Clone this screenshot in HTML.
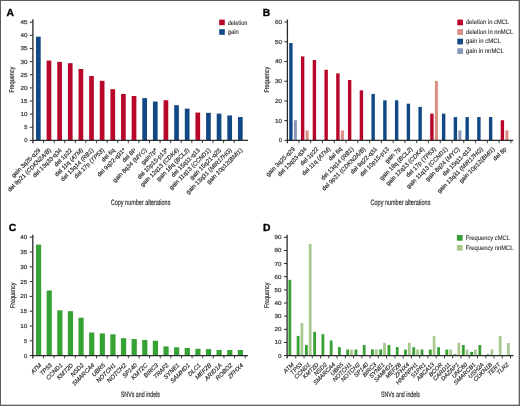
<!DOCTYPE html>
<html><head><meta charset="utf-8"><style>
html,body{margin:0;padding:0;background:#fff;}
body{width:520px;height:406px;overflow:hidden;}
svg{display:block;will-change:transform;}
text{font-family:"Liberation Sans", sans-serif;text-rendering:geometricPrecision;stroke:#333;stroke-width:0.2px;}
</style></head><body>
<svg width="520" height="406" viewBox="0 0 520 406">
<rect x="0" y="0" width="520" height="406" fill="#fff"/>
<g>
<text x="6.5" y="15.6" font-size="10.3" font-weight="bold" fill="#000" style="stroke:#000;stroke-width:0.35px">A</text>
<rect x="36.00" y="36.67" width="4.7" height="103.73" fill="#124985"/>
<rect x="46.63" y="60.57" width="4.7" height="79.83" fill="#b8062a"/>
<rect x="57.26" y="61.88" width="4.7" height="78.52" fill="#b8062a"/>
<rect x="67.89" y="63.20" width="4.7" height="77.20" fill="#b8062a"/>
<rect x="78.52" y="68.97" width="4.7" height="71.43" fill="#b8062a"/>
<rect x="89.15" y="76.06" width="4.7" height="64.34" fill="#b8062a"/>
<rect x="99.78" y="80.79" width="4.7" height="59.61" fill="#b8062a"/>
<rect x="110.41" y="89.19" width="4.7" height="51.21" fill="#b8062a"/>
<rect x="121.04" y="93.92" width="4.7" height="46.48" fill="#b8062a"/>
<rect x="131.67" y="96.02" width="4.7" height="44.38" fill="#b8062a"/>
<rect x="142.30" y="98.12" width="4.7" height="42.28" fill="#124985"/>
<rect x="152.93" y="101.54" width="4.7" height="38.86" fill="#124985"/>
<rect x="163.56" y="100.22" width="4.7" height="40.18" fill="#b8062a"/>
<rect x="174.19" y="105.21" width="4.7" height="35.19" fill="#124985"/>
<rect x="184.82" y="108.63" width="4.7" height="31.77" fill="#124985"/>
<rect x="195.45" y="112.56" width="4.7" height="27.84" fill="#b8062a"/>
<rect x="206.08" y="112.83" width="4.7" height="27.57" fill="#124985"/>
<rect x="216.71" y="113.61" width="4.7" height="26.79" fill="#124985"/>
<rect x="227.34" y="115.45" width="4.7" height="24.95" fill="#124985"/>
<rect x="237.97" y="117.03" width="4.7" height="23.37" fill="#124985"/>
<line x1="32.9" y1="19.3" x2="32.9" y2="143.20000000000002" stroke="#2a2a2a" stroke-width="1.3"/>
<line x1="29.799999999999997" y1="140.40" x2="32.9" y2="140.40" stroke="#2a2a2a" stroke-width="1.0"/>
<text x="27.4" y="142.40" text-anchor="end" font-size="5.8" fill="#333333">0</text>
<line x1="29.799999999999997" y1="127.27" x2="32.9" y2="127.27" stroke="#2a2a2a" stroke-width="1.0"/>
<text x="27.4" y="129.27" text-anchor="end" font-size="5.8" fill="#333333">5</text>
<line x1="29.799999999999997" y1="114.14" x2="32.9" y2="114.14" stroke="#2a2a2a" stroke-width="1.0"/>
<text x="27.4" y="116.14" text-anchor="end" font-size="5.8" fill="#333333" textLength="7.0" lengthAdjust="spacingAndGlyphs">10</text>
<line x1="29.799999999999997" y1="101.01" x2="32.9" y2="101.01" stroke="#2a2a2a" stroke-width="1.0"/>
<text x="27.4" y="103.01" text-anchor="end" font-size="5.8" fill="#333333" textLength="7.0" lengthAdjust="spacingAndGlyphs">15</text>
<line x1="29.799999999999997" y1="87.88" x2="32.9" y2="87.88" stroke="#2a2a2a" stroke-width="1.0"/>
<text x="27.4" y="89.88" text-anchor="end" font-size="5.8" fill="#333333" textLength="7.0" lengthAdjust="spacingAndGlyphs">20</text>
<line x1="29.799999999999997" y1="74.75" x2="32.9" y2="74.75" stroke="#2a2a2a" stroke-width="1.0"/>
<text x="27.4" y="76.75" text-anchor="end" font-size="5.8" fill="#333333" textLength="7.0" lengthAdjust="spacingAndGlyphs">25</text>
<line x1="29.799999999999997" y1="61.62" x2="32.9" y2="61.62" stroke="#2a2a2a" stroke-width="1.0"/>
<text x="27.4" y="63.62" text-anchor="end" font-size="5.8" fill="#333333" textLength="7.0" lengthAdjust="spacingAndGlyphs">30</text>
<line x1="29.799999999999997" y1="48.49" x2="32.9" y2="48.49" stroke="#2a2a2a" stroke-width="1.0"/>
<text x="27.4" y="50.49" text-anchor="end" font-size="5.8" fill="#333333" textLength="7.0" lengthAdjust="spacingAndGlyphs">35</text>
<line x1="29.799999999999997" y1="35.36" x2="32.9" y2="35.36" stroke="#2a2a2a" stroke-width="1.0"/>
<text x="27.4" y="37.36" text-anchor="end" font-size="5.8" fill="#333333" textLength="7.0" lengthAdjust="spacingAndGlyphs">40</text>
<line x1="29.799999999999997" y1="22.23" x2="32.9" y2="22.23" stroke="#2a2a2a" stroke-width="1.0"/>
<text x="27.4" y="24.23" text-anchor="end" font-size="5.8" fill="#333333" textLength="7.0" lengthAdjust="spacingAndGlyphs">45</text>
<line x1="32.449999999999996" y1="140.4" x2="248" y2="140.4" stroke="#2a2a2a" stroke-width="1.3"/>
<line x1="43.59" y1="140.4" x2="43.59" y2="143.20000000000002" stroke="#2a2a2a" stroke-width="0.9"/>
<line x1="54.18" y1="140.4" x2="54.18" y2="143.20000000000002" stroke="#2a2a2a" stroke-width="0.9"/>
<line x1="64.77" y1="140.4" x2="64.77" y2="143.20000000000002" stroke="#2a2a2a" stroke-width="0.9"/>
<line x1="75.36" y1="140.4" x2="75.36" y2="143.20000000000002" stroke="#2a2a2a" stroke-width="0.9"/>
<line x1="85.95" y1="140.4" x2="85.95" y2="143.20000000000002" stroke="#2a2a2a" stroke-width="0.9"/>
<line x1="96.54" y1="140.4" x2="96.54" y2="143.20000000000002" stroke="#2a2a2a" stroke-width="0.9"/>
<line x1="107.13" y1="140.4" x2="107.13" y2="143.20000000000002" stroke="#2a2a2a" stroke-width="0.9"/>
<line x1="117.72" y1="140.4" x2="117.72" y2="143.20000000000002" stroke="#2a2a2a" stroke-width="0.9"/>
<line x1="128.31" y1="140.4" x2="128.31" y2="143.20000000000002" stroke="#2a2a2a" stroke-width="0.9"/>
<line x1="138.90" y1="140.4" x2="138.90" y2="143.20000000000002" stroke="#2a2a2a" stroke-width="0.9"/>
<line x1="149.49" y1="140.4" x2="149.49" y2="143.20000000000002" stroke="#2a2a2a" stroke-width="0.9"/>
<line x1="160.08" y1="140.4" x2="160.08" y2="143.20000000000002" stroke="#2a2a2a" stroke-width="0.9"/>
<line x1="170.67" y1="140.4" x2="170.67" y2="143.20000000000002" stroke="#2a2a2a" stroke-width="0.9"/>
<line x1="181.26" y1="140.4" x2="181.26" y2="143.20000000000002" stroke="#2a2a2a" stroke-width="0.9"/>
<line x1="191.85" y1="140.4" x2="191.85" y2="143.20000000000002" stroke="#2a2a2a" stroke-width="0.9"/>
<line x1="202.44" y1="140.4" x2="202.44" y2="143.20000000000002" stroke="#2a2a2a" stroke-width="0.9"/>
<line x1="213.03" y1="140.4" x2="213.03" y2="143.20000000000002" stroke="#2a2a2a" stroke-width="0.9"/>
<line x1="223.62" y1="140.4" x2="223.62" y2="143.20000000000002" stroke="#2a2a2a" stroke-width="0.9"/>
<line x1="234.21" y1="140.4" x2="234.21" y2="143.20000000000002" stroke="#2a2a2a" stroke-width="0.9"/>
<text transform="translate(40.85,150.6) rotate(-45)" text-anchor="end" font-size="6.0" fill="#333333">gain 3q25-q29</text>
<text transform="translate(51.48,150.6) rotate(-45)" text-anchor="end" font-size="6.0" fill="#333333">del 9p21 (<tspan font-style="italic">CDKN2A/B</tspan>)</text>
<text transform="translate(62.11,150.6) rotate(-45)" text-anchor="end" font-size="6.0" fill="#333333">del 13q33-q34</text>
<text transform="translate(72.74,150.6) rotate(-45)" text-anchor="end" font-size="6.0" fill="#333333">del 1p22</text>
<text transform="translate(83.37,150.6) rotate(-45)" text-anchor="end" font-size="6.0" fill="#333333">del 11q (<tspan font-style="italic">ATM</tspan>)</text>
<text transform="translate(94.00,150.6) rotate(-45)" text-anchor="end" font-size="6.0" fill="#333333">del 13q14 (<tspan font-style="italic">RB1</tspan>)</text>
<text transform="translate(104.63,150.6) rotate(-45)" text-anchor="end" font-size="6.0" fill="#333333">del 17p (<tspan font-style="italic">TP53</tspan>)</text>
<text transform="translate(115.26,150.6) rotate(-45)" text-anchor="end" font-size="6.0" fill="#333333">del 6q</text>
<text transform="translate(125.89,150.6) rotate(-45)" text-anchor="end" font-size="6.0" fill="#333333">del 9q22-q31*</text>
<text transform="translate(136.52,150.6) rotate(-45)" text-anchor="end" font-size="6.0" fill="#333333">del 8P</text>
<text transform="translate(147.15,150.6) rotate(-45)" text-anchor="end" font-size="6.0" fill="#333333">gain 8q24 (<tspan font-style="italic">MYC</tspan>)</text>
<text transform="translate(157.78,150.6) rotate(-45)" text-anchor="end" font-size="6.0" fill="#333333">gain7p*</text>
<text transform="translate(168.41,150.6) rotate(-45)" text-anchor="end" font-size="6.0" fill="#333333">del 10p15-p13*</text>
<text transform="translate(179.04,150.6) rotate(-45)" text-anchor="end" font-size="6.0" fill="#333333">gain 12q13 (<tspan font-style="italic">CDK4</tspan>)</text>
<text transform="translate(189.67,150.6) rotate(-45)" text-anchor="end" font-size="6.0" fill="#333333">gain 18q (<tspan font-style="italic">BCL2</tspan>)</text>
<text transform="translate(200.30,150.6) rotate(-45)" text-anchor="end" font-size="6.0" fill="#333333">del 15q11-q13</text>
<text transform="translate(210.93,150.6) rotate(-45)" text-anchor="end" font-size="6.0" fill="#333333">gain 11q13 (<tspan font-style="italic">CCND1</tspan>)</text>
<text transform="translate(221.56,150.6) rotate(-45)" text-anchor="end" font-size="6.0" fill="#333333">gain 15q21-q25</text>
<text transform="translate(232.19,150.6) rotate(-45)" text-anchor="end" font-size="6.0" fill="#333333">gain 13q31 (<tspan font-style="italic">MIR17HG</tspan>)</text>
<text transform="translate(242.82,150.6) rotate(-45)" text-anchor="end" font-size="6.0" fill="#333333">gain 10p12(<tspan font-style="italic">BMI1</tspan>)</text>
<text transform="translate(14.40,79.7) rotate(-90)" text-anchor="middle" font-size="6.9" fill="#333333" textLength="25.8" lengthAdjust="spacingAndGlyphs">Frequency</text>
<text x="110.80" y="205.1" font-size="7.8" fill="#333333" textLength="59.6" lengthAdjust="spacingAndGlyphs">Copy number alterations</text>
<rect x="219.2" y="19.6" width="5.6" height="5.6" fill="#b8062a"/>
<text x="227.7" y="24.70" font-size="6.4" fill="#333333" style="stroke-width:0.12px" textLength="19.8" lengthAdjust="spacingAndGlyphs">deletion</text>
<rect x="219.2" y="29.2" width="5.6" height="5.6" fill="#124985"/>
<text x="227.7" y="34.30" font-size="6.4" fill="#333333" style="stroke-width:0.12px" textLength="11.0" lengthAdjust="spacingAndGlyphs">gain</text>
</g>
<g>
<text x="262.8" y="15.6" font-size="10.3" font-weight="bold" fill="#000" style="stroke:#000;stroke-width:0.35px">B</text>
<rect x="289.20" y="43.04" width="3.4" height="97.36" fill="#124985"/>
<rect x="293.90" y="120.25" width="3.0" height="20.15" fill="#8c97bc"/>
<rect x="300.95" y="56.41" width="3.4" height="83.99" fill="#b8062a"/>
<rect x="305.65" y="130.43" width="3.0" height="9.98" fill="#da8e82"/>
<rect x="312.70" y="60.00" width="3.4" height="80.40" fill="#b8062a"/>
<rect x="324.45" y="69.78" width="3.4" height="70.62" fill="#b8062a"/>
<rect x="336.20" y="73.37" width="3.4" height="67.03" fill="#b8062a"/>
<rect x="340.90" y="130.43" width="3.0" height="9.98" fill="#da8e82"/>
<rect x="347.95" y="79.95" width="3.4" height="60.45" fill="#b8062a"/>
<rect x="359.70" y="90.33" width="3.4" height="50.07" fill="#b8062a"/>
<rect x="371.45" y="93.92" width="3.4" height="46.48" fill="#124985"/>
<rect x="383.20" y="100.30" width="3.4" height="40.10" fill="#124985"/>
<rect x="394.95" y="100.30" width="3.4" height="40.10" fill="#124985"/>
<rect x="406.70" y="103.69" width="3.4" height="36.71" fill="#124985"/>
<rect x="418.45" y="106.88" width="3.4" height="33.52" fill="#124985"/>
<rect x="430.20" y="113.67" width="3.4" height="26.73" fill="#b8062a"/>
<rect x="434.90" y="80.95" width="3.0" height="59.45" fill="#da8e82"/>
<rect x="441.95" y="113.67" width="3.4" height="26.73" fill="#124985"/>
<rect x="453.70" y="117.06" width="3.4" height="23.34" fill="#124985"/>
<rect x="458.40" y="130.43" width="3.0" height="9.98" fill="#8c97bc"/>
<rect x="465.45" y="117.06" width="3.4" height="23.34" fill="#124985"/>
<rect x="477.20" y="117.06" width="3.4" height="23.34" fill="#124985"/>
<rect x="488.95" y="117.06" width="3.4" height="23.34" fill="#124985"/>
<rect x="500.70" y="120.25" width="3.4" height="20.15" fill="#b8062a"/>
<rect x="505.40" y="130.43" width="3.0" height="9.98" fill="#da8e82"/>
<line x1="287.4" y1="19.5" x2="287.4" y2="143.20000000000002" stroke="#2a2a2a" stroke-width="1.3"/>
<line x1="284.29999999999995" y1="140.40" x2="287.4" y2="140.40" stroke="#2a2a2a" stroke-width="1.0"/>
<text x="281.9" y="142.40" text-anchor="end" font-size="5.8" fill="#333333">0</text>
<line x1="284.29999999999995" y1="120.67" x2="287.4" y2="120.67" stroke="#2a2a2a" stroke-width="1.0"/>
<text x="281.9" y="122.67" text-anchor="end" font-size="5.8" fill="#333333" textLength="7.0" lengthAdjust="spacingAndGlyphs">10</text>
<line x1="284.29999999999995" y1="100.94" x2="287.4" y2="100.94" stroke="#2a2a2a" stroke-width="1.0"/>
<text x="281.9" y="102.94" text-anchor="end" font-size="5.8" fill="#333333" textLength="7.0" lengthAdjust="spacingAndGlyphs">20</text>
<line x1="284.29999999999995" y1="81.21" x2="287.4" y2="81.21" stroke="#2a2a2a" stroke-width="1.0"/>
<text x="281.9" y="83.21" text-anchor="end" font-size="5.8" fill="#333333" textLength="7.0" lengthAdjust="spacingAndGlyphs">30</text>
<line x1="284.29999999999995" y1="61.48" x2="287.4" y2="61.48" stroke="#2a2a2a" stroke-width="1.0"/>
<text x="281.9" y="63.48" text-anchor="end" font-size="5.8" fill="#333333" textLength="7.0" lengthAdjust="spacingAndGlyphs">40</text>
<line x1="284.29999999999995" y1="41.75" x2="287.4" y2="41.75" stroke="#2a2a2a" stroke-width="1.0"/>
<text x="281.9" y="43.75" text-anchor="end" font-size="5.8" fill="#333333" textLength="7.0" lengthAdjust="spacingAndGlyphs">50</text>
<line x1="284.29999999999995" y1="22.02" x2="287.4" y2="22.02" stroke="#2a2a2a" stroke-width="1.0"/>
<text x="281.9" y="24.02" text-anchor="end" font-size="5.8" fill="#333333" textLength="7.0" lengthAdjust="spacingAndGlyphs">60</text>
<line x1="286.95" y1="140.4" x2="513.3" y2="140.4" stroke="#2a2a2a" stroke-width="1.3"/>
<line x1="298.93" y1="140.4" x2="298.93" y2="143.20000000000002" stroke="#2a2a2a" stroke-width="0.9"/>
<line x1="310.70" y1="140.4" x2="310.70" y2="143.20000000000002" stroke="#2a2a2a" stroke-width="0.9"/>
<line x1="322.48" y1="140.4" x2="322.48" y2="143.20000000000002" stroke="#2a2a2a" stroke-width="0.9"/>
<line x1="334.25" y1="140.4" x2="334.25" y2="143.20000000000002" stroke="#2a2a2a" stroke-width="0.9"/>
<line x1="346.03" y1="140.4" x2="346.03" y2="143.20000000000002" stroke="#2a2a2a" stroke-width="0.9"/>
<line x1="357.81" y1="140.4" x2="357.81" y2="143.20000000000002" stroke="#2a2a2a" stroke-width="0.9"/>
<line x1="369.58" y1="140.4" x2="369.58" y2="143.20000000000002" stroke="#2a2a2a" stroke-width="0.9"/>
<line x1="381.36" y1="140.4" x2="381.36" y2="143.20000000000002" stroke="#2a2a2a" stroke-width="0.9"/>
<line x1="393.13" y1="140.4" x2="393.13" y2="143.20000000000002" stroke="#2a2a2a" stroke-width="0.9"/>
<line x1="404.91" y1="140.4" x2="404.91" y2="143.20000000000002" stroke="#2a2a2a" stroke-width="0.9"/>
<line x1="416.69" y1="140.4" x2="416.69" y2="143.20000000000002" stroke="#2a2a2a" stroke-width="0.9"/>
<line x1="428.46" y1="140.4" x2="428.46" y2="143.20000000000002" stroke="#2a2a2a" stroke-width="0.9"/>
<line x1="440.24" y1="140.4" x2="440.24" y2="143.20000000000002" stroke="#2a2a2a" stroke-width="0.9"/>
<line x1="452.01" y1="140.4" x2="452.01" y2="143.20000000000002" stroke="#2a2a2a" stroke-width="0.9"/>
<line x1="463.79" y1="140.4" x2="463.79" y2="143.20000000000002" stroke="#2a2a2a" stroke-width="0.9"/>
<line x1="475.57" y1="140.4" x2="475.57" y2="143.20000000000002" stroke="#2a2a2a" stroke-width="0.9"/>
<line x1="487.34" y1="140.4" x2="487.34" y2="143.20000000000002" stroke="#2a2a2a" stroke-width="0.9"/>
<line x1="499.12" y1="140.4" x2="499.12" y2="143.20000000000002" stroke="#2a2a2a" stroke-width="0.9"/>
<line x1="510.89" y1="140.4" x2="510.89" y2="143.20000000000002" stroke="#2a2a2a" stroke-width="0.9"/>
<text transform="translate(295.38,149.5) rotate(-45)" text-anchor="end" font-size="6.0" fill="#333333">gain 3q25-q29</text>
<text transform="translate(307.12,149.5) rotate(-45)" text-anchor="end" font-size="6.0" fill="#333333">del 13q33-q34</text>
<text transform="translate(318.88,149.5) rotate(-45)" text-anchor="end" font-size="6.0" fill="#333333">del 1p22</text>
<text transform="translate(330.62,149.5) rotate(-45)" text-anchor="end" font-size="6.0" fill="#333333">del 11q (<tspan font-style="italic">ATM</tspan>)</text>
<text transform="translate(342.38,149.5) rotate(-45)" text-anchor="end" font-size="6.0" fill="#333333">del 6q</text>
<text transform="translate(354.12,149.5) rotate(-45)" text-anchor="end" font-size="6.0" fill="#333333">del 13q14 (<tspan font-style="italic">RB1</tspan>)</text>
<text transform="translate(365.88,149.5) rotate(-45)" text-anchor="end" font-size="6.0" fill="#333333">del 9p21 (<tspan font-style="italic">CDKN2A/B</tspan>)</text>
<text transform="translate(377.62,149.5) rotate(-45)" text-anchor="end" font-size="6.0" fill="#333333">del 9q22-q31</text>
<text transform="translate(389.38,149.5) rotate(-45)" text-anchor="end" font-size="6.0" fill="#333333">del 10p15-p13</text>
<text transform="translate(401.12,149.5) rotate(-45)" text-anchor="end" font-size="6.0" fill="#333333">gain 7p</text>
<text transform="translate(412.88,149.5) rotate(-45)" text-anchor="end" font-size="6.0" fill="#333333">gain 18q (<tspan font-style="italic">BCL2</tspan>)</text>
<text transform="translate(424.62,149.5) rotate(-45)" text-anchor="end" font-size="6.0" fill="#333333">gain 12q13 (<tspan font-style="italic">CDK4</tspan>)</text>
<text transform="translate(436.38,149.5) rotate(-45)" text-anchor="end" font-size="6.0" fill="#333333">del 17p (<tspan font-style="italic">TP53</tspan>)</text>
<text transform="translate(448.12,149.5) rotate(-45)" text-anchor="end" font-size="6.0" fill="#333333">gain 11q13 (<tspan font-style="italic">CCND1</tspan>)</text>
<text transform="translate(459.88,149.5) rotate(-45)" text-anchor="end" font-size="6.0" fill="#333333">gain 8q24 (<tspan font-style="italic">MYC</tspan>)</text>
<text transform="translate(471.62,149.5) rotate(-45)" text-anchor="end" font-size="6.0" fill="#333333">del 15q11-q13</text>
<text transform="translate(483.38,149.5) rotate(-45)" text-anchor="end" font-size="6.0" fill="#333333">gain 13q31 (<tspan font-style="italic">MIR17HG</tspan>)</text>
<text transform="translate(495.12,149.5) rotate(-45)" text-anchor="end" font-size="6.0" fill="#333333">gain 10p12(<tspan font-style="italic">BMI1</tspan>)</text>
<text transform="translate(506.88,149.5) rotate(-45)" text-anchor="end" font-size="6.0" fill="#333333">del 8p</text>
<text transform="translate(268.70,79.7) rotate(-90)" text-anchor="middle" font-size="6.9" fill="#333333" textLength="25.8" lengthAdjust="spacingAndGlyphs">Frequency</text>
<text x="370.60" y="204.5" font-size="7.8" fill="#333333" textLength="59.8" lengthAdjust="spacingAndGlyphs">Copy number alterations</text>
<rect x="457.3" y="19.6" width="5.7" height="5.7" fill="#b8062a"/>
<text x="465.9" y="24.15" font-size="6.4" fill="#333333" style="stroke-width:0.12px" textLength="43.3" lengthAdjust="spacingAndGlyphs">deletion in cMCL</text>
<rect x="457.3" y="29.15" width="5.7" height="5.7" fill="#da8e82"/>
<text x="465.9" y="33.70" font-size="6.4" fill="#333333" style="stroke-width:0.12px" textLength="47.4" lengthAdjust="spacingAndGlyphs">deletion in nnMCL</text>
<rect x="457.3" y="38.7" width="5.7" height="5.7" fill="#124985"/>
<text x="465.9" y="43.25" font-size="6.4" fill="#333333" style="stroke-width:0.12px" textLength="35.0" lengthAdjust="spacingAndGlyphs">gain in cMCL</text>
<rect x="457.3" y="48.25" width="5.7" height="5.7" fill="#8c97bc"/>
<text x="465.9" y="52.80" font-size="6.4" fill="#333333" style="stroke-width:0.12px" textLength="37.9" lengthAdjust="spacingAndGlyphs">gain in nnMCL</text>
</g>
<g>
<text x="8.7" y="231.2" font-size="10.3" font-weight="bold" fill="#000" style="stroke:#000;stroke-width:0.35px">C</text>
<rect x="36.00" y="244.60" width="5.2" height="111.00" fill="#37a234"/>
<rect x="46.62" y="290.48" width="5.2" height="65.12" fill="#37a234"/>
<rect x="57.24" y="310.31" width="5.2" height="45.29" fill="#37a234"/>
<rect x="67.86" y="311.20" width="5.2" height="44.40" fill="#37a234"/>
<rect x="78.48" y="317.71" width="5.2" height="37.89" fill="#37a234"/>
<rect x="89.10" y="332.51" width="5.2" height="23.09" fill="#37a234"/>
<rect x="99.72" y="333.40" width="5.2" height="22.20" fill="#37a234"/>
<rect x="110.34" y="334.29" width="5.2" height="21.31" fill="#37a234"/>
<rect x="120.96" y="338.14" width="5.2" height="17.46" fill="#37a234"/>
<rect x="131.58" y="339.02" width="5.2" height="16.58" fill="#37a234"/>
<rect x="142.20" y="339.91" width="5.2" height="15.69" fill="#37a234"/>
<rect x="152.82" y="340.80" width="5.2" height="14.80" fill="#37a234"/>
<rect x="163.44" y="346.42" width="5.2" height="9.18" fill="#37a234"/>
<rect x="174.06" y="347.31" width="5.2" height="8.29" fill="#37a234"/>
<rect x="184.68" y="347.90" width="5.2" height="7.70" fill="#37a234"/>
<rect x="195.30" y="348.79" width="5.2" height="6.81" fill="#37a234"/>
<rect x="205.92" y="349.09" width="5.2" height="6.51" fill="#37a234"/>
<rect x="216.54" y="349.98" width="5.2" height="5.62" fill="#37a234"/>
<rect x="227.16" y="349.98" width="5.2" height="5.62" fill="#37a234"/>
<rect x="237.78" y="349.98" width="5.2" height="5.62" fill="#37a234"/>
<line x1="32.8" y1="234.7" x2="32.8" y2="358.40000000000003" stroke="#2a2a2a" stroke-width="1.3"/>
<line x1="29.699999999999996" y1="355.60" x2="32.8" y2="355.60" stroke="#2a2a2a" stroke-width="1.0"/>
<text x="27.299999999999997" y="357.60" text-anchor="end" font-size="5.8" fill="#333333">0</text>
<line x1="29.699999999999996" y1="340.80" x2="32.8" y2="340.80" stroke="#2a2a2a" stroke-width="1.0"/>
<text x="27.299999999999997" y="342.80" text-anchor="end" font-size="5.8" fill="#333333">5</text>
<line x1="29.699999999999996" y1="326.00" x2="32.8" y2="326.00" stroke="#2a2a2a" stroke-width="1.0"/>
<text x="27.299999999999997" y="328.00" text-anchor="end" font-size="5.8" fill="#333333" textLength="7.0" lengthAdjust="spacingAndGlyphs">10</text>
<line x1="29.699999999999996" y1="311.20" x2="32.8" y2="311.20" stroke="#2a2a2a" stroke-width="1.0"/>
<text x="27.299999999999997" y="313.20" text-anchor="end" font-size="5.8" fill="#333333" textLength="7.0" lengthAdjust="spacingAndGlyphs">15</text>
<line x1="29.699999999999996" y1="296.40" x2="32.8" y2="296.40" stroke="#2a2a2a" stroke-width="1.0"/>
<text x="27.299999999999997" y="298.40" text-anchor="end" font-size="5.8" fill="#333333" textLength="7.0" lengthAdjust="spacingAndGlyphs">20</text>
<line x1="29.699999999999996" y1="281.60" x2="32.8" y2="281.60" stroke="#2a2a2a" stroke-width="1.0"/>
<text x="27.299999999999997" y="283.60" text-anchor="end" font-size="5.8" fill="#333333" textLength="7.0" lengthAdjust="spacingAndGlyphs">25</text>
<line x1="29.699999999999996" y1="266.80" x2="32.8" y2="266.80" stroke="#2a2a2a" stroke-width="1.0"/>
<text x="27.299999999999997" y="268.80" text-anchor="end" font-size="5.8" fill="#333333" textLength="7.0" lengthAdjust="spacingAndGlyphs">30</text>
<line x1="29.699999999999996" y1="252.00" x2="32.8" y2="252.00" stroke="#2a2a2a" stroke-width="1.0"/>
<text x="27.299999999999997" y="254.00" text-anchor="end" font-size="5.8" fill="#333333" textLength="7.0" lengthAdjust="spacingAndGlyphs">35</text>
<line x1="29.699999999999996" y1="237.20" x2="32.8" y2="237.20" stroke="#2a2a2a" stroke-width="1.0"/>
<text x="27.299999999999997" y="239.20" text-anchor="end" font-size="5.8" fill="#333333" textLength="7.0" lengthAdjust="spacingAndGlyphs">40</text>
<line x1="32.349999999999994" y1="355.6" x2="248" y2="355.6" stroke="#2a2a2a" stroke-width="1.3"/>
<line x1="43.42" y1="355.6" x2="43.42" y2="358.40000000000003" stroke="#2a2a2a" stroke-width="0.9"/>
<line x1="54.04" y1="355.6" x2="54.04" y2="358.40000000000003" stroke="#2a2a2a" stroke-width="0.9"/>
<line x1="64.66" y1="355.6" x2="64.66" y2="358.40000000000003" stroke="#2a2a2a" stroke-width="0.9"/>
<line x1="75.28" y1="355.6" x2="75.28" y2="358.40000000000003" stroke="#2a2a2a" stroke-width="0.9"/>
<line x1="85.90" y1="355.6" x2="85.90" y2="358.40000000000003" stroke="#2a2a2a" stroke-width="0.9"/>
<line x1="96.52" y1="355.6" x2="96.52" y2="358.40000000000003" stroke="#2a2a2a" stroke-width="0.9"/>
<line x1="107.14" y1="355.6" x2="107.14" y2="358.40000000000003" stroke="#2a2a2a" stroke-width="0.9"/>
<line x1="117.76" y1="355.6" x2="117.76" y2="358.40000000000003" stroke="#2a2a2a" stroke-width="0.9"/>
<line x1="128.38" y1="355.6" x2="128.38" y2="358.40000000000003" stroke="#2a2a2a" stroke-width="0.9"/>
<line x1="139.00" y1="355.6" x2="139.00" y2="358.40000000000003" stroke="#2a2a2a" stroke-width="0.9"/>
<line x1="149.62" y1="355.6" x2="149.62" y2="358.40000000000003" stroke="#2a2a2a" stroke-width="0.9"/>
<line x1="160.24" y1="355.6" x2="160.24" y2="358.40000000000003" stroke="#2a2a2a" stroke-width="0.9"/>
<line x1="170.86" y1="355.6" x2="170.86" y2="358.40000000000003" stroke="#2a2a2a" stroke-width="0.9"/>
<line x1="181.48" y1="355.6" x2="181.48" y2="358.40000000000003" stroke="#2a2a2a" stroke-width="0.9"/>
<line x1="192.10" y1="355.6" x2="192.10" y2="358.40000000000003" stroke="#2a2a2a" stroke-width="0.9"/>
<line x1="202.72" y1="355.6" x2="202.72" y2="358.40000000000003" stroke="#2a2a2a" stroke-width="0.9"/>
<line x1="213.34" y1="355.6" x2="213.34" y2="358.40000000000003" stroke="#2a2a2a" stroke-width="0.9"/>
<line x1="223.96" y1="355.6" x2="223.96" y2="358.40000000000003" stroke="#2a2a2a" stroke-width="0.9"/>
<line x1="234.58" y1="355.6" x2="234.58" y2="358.40000000000003" stroke="#2a2a2a" stroke-width="0.9"/>
<line x1="245.20" y1="355.6" x2="245.20" y2="358.40000000000003" stroke="#2a2a2a" stroke-width="0.9"/>
<text transform="translate(41.80,365.6) rotate(-45)" text-anchor="end" font-size="6.0" fill="#333333" font-style="italic">ATM</text>
<text transform="translate(52.42,365.6) rotate(-45)" text-anchor="end" font-size="6.0" fill="#333333" font-style="italic">TP53</text>
<text transform="translate(63.04,365.6) rotate(-45)" text-anchor="end" font-size="6.0" fill="#333333" font-style="italic">CCND1</text>
<text transform="translate(73.66,365.6) rotate(-45)" text-anchor="end" font-size="6.0" fill="#333333" font-style="italic">KMT2D</text>
<text transform="translate(84.28,365.6) rotate(-45)" text-anchor="end" font-size="6.0" fill="#333333" font-style="italic">NSD2</text>
<text transform="translate(94.90,365.6) rotate(-45)" text-anchor="end" font-size="6.0" fill="#333333" font-style="italic">SMARCA4</text>
<text transform="translate(105.52,365.6) rotate(-45)" text-anchor="end" font-size="6.0" fill="#333333" font-style="italic">UBR5</text>
<text transform="translate(116.14,365.6) rotate(-45)" text-anchor="end" font-size="6.0" fill="#333333" font-style="italic">NOTCH1</text>
<text transform="translate(126.76,365.6) rotate(-45)" text-anchor="end" font-size="6.0" fill="#333333" font-style="italic">NOTCH2</text>
<text transform="translate(137.38,365.6) rotate(-45)" text-anchor="end" font-size="6.0" fill="#333333" font-style="italic">SP140</text>
<text transform="translate(148.00,365.6) rotate(-45)" text-anchor="end" font-size="6.0" fill="#333333" font-style="italic">KMT2C</text>
<text transform="translate(158.62,365.6) rotate(-45)" text-anchor="end" font-size="6.0" fill="#333333" font-style="italic">BIRC3</text>
<text transform="translate(169.24,365.6) rotate(-45)" text-anchor="end" font-size="6.0" fill="#333333" font-style="italic">TRAF2</text>
<text transform="translate(179.86,365.6) rotate(-45)" text-anchor="end" font-size="6.0" fill="#333333" font-style="italic">SYNE1</text>
<text transform="translate(190.48,365.6) rotate(-45)" text-anchor="end" font-size="6.0" fill="#333333" font-style="italic">SAMHD1</text>
<text transform="translate(201.10,365.6) rotate(-45)" text-anchor="end" font-size="6.0" fill="#333333" font-style="italic">DLC1</text>
<text transform="translate(211.72,365.6) rotate(-45)" text-anchor="end" font-size="6.0" fill="#333333" font-style="italic">MEF2B</text>
<text transform="translate(222.34,365.6) rotate(-45)" text-anchor="end" font-size="6.0" fill="#333333" font-style="italic">ARID1A</text>
<text transform="translate(232.96,365.6) rotate(-45)" text-anchor="end" font-size="6.0" fill="#333333" font-style="italic">ROBO2</text>
<text transform="translate(243.58,365.6) rotate(-45)" text-anchor="end" font-size="6.0" fill="#333333" font-style="italic">ZFHX4</text>
<text transform="translate(14.50,295.3) rotate(-90)" text-anchor="middle" font-size="6.9" fill="#333333" textLength="25.5" lengthAdjust="spacingAndGlyphs">Frequency</text>
<text x="120.80" y="396.9" font-size="7.8" fill="#333333" textLength="39.2" lengthAdjust="spacingAndGlyphs">SNVs and indels</text>
</g>
<g>
<text x="263.0" y="231.0" font-size="10.3" font-weight="bold" fill="#000" style="stroke:#000;stroke-width:0.35px">D</text>
<rect x="288.45" y="279.86" width="2.8" height="75.74" fill="#379f33"/>
<rect x="296.71" y="335.88" width="2.8" height="19.72" fill="#379f33"/>
<rect x="300.56" y="322.99" width="2.7" height="32.61" fill="#a8c88e"/>
<rect x="304.97" y="344.95" width="2.8" height="10.65" fill="#379f33"/>
<rect x="308.82" y="243.96" width="2.7" height="111.64" fill="#a8c88e"/>
<rect x="313.23" y="331.80" width="2.8" height="23.80" fill="#379f33"/>
<rect x="321.49" y="334.17" width="2.8" height="21.43" fill="#379f33"/>
<rect x="329.75" y="340.48" width="2.8" height="15.12" fill="#379f33"/>
<rect x="338.01" y="347.05" width="2.8" height="8.55" fill="#379f33"/>
<rect x="346.27" y="349.55" width="2.8" height="6.05" fill="#379f33"/>
<rect x="350.12" y="349.55" width="2.7" height="6.05" fill="#a8c88e"/>
<rect x="354.53" y="349.55" width="2.8" height="6.05" fill="#379f33"/>
<rect x="362.79" y="344.95" width="2.8" height="10.65" fill="#379f33"/>
<rect x="371.05" y="349.42" width="2.8" height="6.18" fill="#379f33"/>
<rect x="374.90" y="349.42" width="2.7" height="6.18" fill="#a8c88e"/>
<rect x="379.31" y="349.42" width="2.8" height="6.18" fill="#379f33"/>
<rect x="383.16" y="342.84" width="2.7" height="12.76" fill="#a8c88e"/>
<rect x="387.57" y="344.95" width="2.8" height="10.65" fill="#379f33"/>
<rect x="395.83" y="347.05" width="2.8" height="8.55" fill="#379f33"/>
<rect x="404.09" y="349.55" width="2.8" height="6.05" fill="#379f33"/>
<rect x="407.94" y="342.84" width="2.7" height="12.76" fill="#a8c88e"/>
<rect x="412.35" y="347.18" width="2.8" height="8.42" fill="#379f33"/>
<rect x="416.20" y="349.55" width="2.7" height="6.05" fill="#a8c88e"/>
<rect x="420.61" y="349.55" width="2.8" height="6.05" fill="#379f33"/>
<rect x="428.87" y="349.55" width="2.8" height="6.05" fill="#379f33"/>
<rect x="432.72" y="336.14" width="2.7" height="19.46" fill="#a8c88e"/>
<rect x="437.13" y="347.18" width="2.8" height="8.42" fill="#379f33"/>
<rect x="445.39" y="349.55" width="2.8" height="6.05" fill="#379f33"/>
<rect x="449.24" y="349.55" width="2.7" height="6.05" fill="#a8c88e"/>
<rect x="453.65" y="354.29" width="2.8" height="1.31" fill="#379f33"/>
<rect x="457.50" y="342.84" width="2.7" height="12.76" fill="#a8c88e"/>
<rect x="461.91" y="345.08" width="2.8" height="10.52" fill="#379f33"/>
<rect x="465.76" y="349.55" width="2.7" height="6.05" fill="#a8c88e"/>
<rect x="470.17" y="351.79" width="2.8" height="3.81" fill="#379f33"/>
<rect x="474.02" y="349.55" width="2.7" height="6.05" fill="#a8c88e"/>
<rect x="478.43" y="345.08" width="2.8" height="10.52" fill="#379f33"/>
<rect x="486.69" y="354.29" width="2.8" height="1.31" fill="#379f33"/>
<rect x="490.54" y="349.55" width="2.7" height="6.05" fill="#a8c88e"/>
<rect x="498.80" y="336.01" width="2.7" height="19.59" fill="#a8c88e"/>
<rect x="507.06" y="342.98" width="2.7" height="12.62" fill="#a8c88e"/>
<line x1="287.1" y1="234.7" x2="287.1" y2="358.40000000000003" stroke="#2a2a2a" stroke-width="1.3"/>
<line x1="284.0" y1="355.60" x2="287.1" y2="355.60" stroke="#2a2a2a" stroke-width="1.0"/>
<text x="281.6" y="357.60" text-anchor="end" font-size="5.8" fill="#333333">0</text>
<line x1="284.0" y1="342.45" x2="287.1" y2="342.45" stroke="#2a2a2a" stroke-width="1.0"/>
<text x="281.6" y="344.45" text-anchor="end" font-size="5.8" fill="#333333" textLength="7.0" lengthAdjust="spacingAndGlyphs">10</text>
<line x1="284.0" y1="329.30" x2="287.1" y2="329.30" stroke="#2a2a2a" stroke-width="1.0"/>
<text x="281.6" y="331.30" text-anchor="end" font-size="5.8" fill="#333333" textLength="7.0" lengthAdjust="spacingAndGlyphs">20</text>
<line x1="284.0" y1="316.15" x2="287.1" y2="316.15" stroke="#2a2a2a" stroke-width="1.0"/>
<text x="281.6" y="318.15" text-anchor="end" font-size="5.8" fill="#333333" textLength="7.0" lengthAdjust="spacingAndGlyphs">30</text>
<line x1="284.0" y1="303.00" x2="287.1" y2="303.00" stroke="#2a2a2a" stroke-width="1.0"/>
<text x="281.6" y="305.00" text-anchor="end" font-size="5.8" fill="#333333" textLength="7.0" lengthAdjust="spacingAndGlyphs">40</text>
<line x1="284.0" y1="289.85" x2="287.1" y2="289.85" stroke="#2a2a2a" stroke-width="1.0"/>
<text x="281.6" y="291.85" text-anchor="end" font-size="5.8" fill="#333333" textLength="7.0" lengthAdjust="spacingAndGlyphs">50</text>
<line x1="284.0" y1="276.70" x2="287.1" y2="276.70" stroke="#2a2a2a" stroke-width="1.0"/>
<text x="281.6" y="278.70" text-anchor="end" font-size="5.8" fill="#333333" textLength="7.0" lengthAdjust="spacingAndGlyphs">60</text>
<line x1="284.0" y1="263.55" x2="287.1" y2="263.55" stroke="#2a2a2a" stroke-width="1.0"/>
<text x="281.6" y="265.55" text-anchor="end" font-size="5.8" fill="#333333" textLength="7.0" lengthAdjust="spacingAndGlyphs">70</text>
<line x1="284.0" y1="250.40" x2="287.1" y2="250.40" stroke="#2a2a2a" stroke-width="1.0"/>
<text x="281.6" y="252.40" text-anchor="end" font-size="5.8" fill="#333333" textLength="7.0" lengthAdjust="spacingAndGlyphs">80</text>
<line x1="284.0" y1="237.25" x2="287.1" y2="237.25" stroke="#2a2a2a" stroke-width="1.0"/>
<text x="281.6" y="239.25" text-anchor="end" font-size="5.8" fill="#333333" textLength="7.0" lengthAdjust="spacingAndGlyphs">90</text>
<line x1="286.65000000000003" y1="355.6" x2="513.5" y2="355.6" stroke="#2a2a2a" stroke-width="1.3"/>
<line x1="295.76" y1="355.6" x2="295.76" y2="358.40000000000003" stroke="#2a2a2a" stroke-width="0.9"/>
<line x1="304.02" y1="355.6" x2="304.02" y2="358.40000000000003" stroke="#2a2a2a" stroke-width="0.9"/>
<line x1="312.28" y1="355.6" x2="312.28" y2="358.40000000000003" stroke="#2a2a2a" stroke-width="0.9"/>
<line x1="320.54" y1="355.6" x2="320.54" y2="358.40000000000003" stroke="#2a2a2a" stroke-width="0.9"/>
<line x1="328.80" y1="355.6" x2="328.80" y2="358.40000000000003" stroke="#2a2a2a" stroke-width="0.9"/>
<line x1="337.06" y1="355.6" x2="337.06" y2="358.40000000000003" stroke="#2a2a2a" stroke-width="0.9"/>
<line x1="345.32" y1="355.6" x2="345.32" y2="358.40000000000003" stroke="#2a2a2a" stroke-width="0.9"/>
<line x1="353.58" y1="355.6" x2="353.58" y2="358.40000000000003" stroke="#2a2a2a" stroke-width="0.9"/>
<line x1="361.84" y1="355.6" x2="361.84" y2="358.40000000000003" stroke="#2a2a2a" stroke-width="0.9"/>
<line x1="370.10" y1="355.6" x2="370.10" y2="358.40000000000003" stroke="#2a2a2a" stroke-width="0.9"/>
<line x1="378.36" y1="355.6" x2="378.36" y2="358.40000000000003" stroke="#2a2a2a" stroke-width="0.9"/>
<line x1="386.62" y1="355.6" x2="386.62" y2="358.40000000000003" stroke="#2a2a2a" stroke-width="0.9"/>
<line x1="394.88" y1="355.6" x2="394.88" y2="358.40000000000003" stroke="#2a2a2a" stroke-width="0.9"/>
<line x1="403.14" y1="355.6" x2="403.14" y2="358.40000000000003" stroke="#2a2a2a" stroke-width="0.9"/>
<line x1="411.40" y1="355.6" x2="411.40" y2="358.40000000000003" stroke="#2a2a2a" stroke-width="0.9"/>
<line x1="419.66" y1="355.6" x2="419.66" y2="358.40000000000003" stroke="#2a2a2a" stroke-width="0.9"/>
<line x1="427.92" y1="355.6" x2="427.92" y2="358.40000000000003" stroke="#2a2a2a" stroke-width="0.9"/>
<line x1="436.18" y1="355.6" x2="436.18" y2="358.40000000000003" stroke="#2a2a2a" stroke-width="0.9"/>
<line x1="444.44" y1="355.6" x2="444.44" y2="358.40000000000003" stroke="#2a2a2a" stroke-width="0.9"/>
<line x1="452.70" y1="355.6" x2="452.70" y2="358.40000000000003" stroke="#2a2a2a" stroke-width="0.9"/>
<line x1="460.96" y1="355.6" x2="460.96" y2="358.40000000000003" stroke="#2a2a2a" stroke-width="0.9"/>
<line x1="469.22" y1="355.6" x2="469.22" y2="358.40000000000003" stroke="#2a2a2a" stroke-width="0.9"/>
<line x1="477.48" y1="355.6" x2="477.48" y2="358.40000000000003" stroke="#2a2a2a" stroke-width="0.9"/>
<line x1="485.74" y1="355.6" x2="485.74" y2="358.40000000000003" stroke="#2a2a2a" stroke-width="0.9"/>
<line x1="494.00" y1="355.6" x2="494.00" y2="358.40000000000003" stroke="#2a2a2a" stroke-width="0.9"/>
<line x1="502.26" y1="355.6" x2="502.26" y2="358.40000000000003" stroke="#2a2a2a" stroke-width="0.9"/>
<line x1="510.52" y1="355.6" x2="510.52" y2="358.40000000000003" stroke="#2a2a2a" stroke-width="0.9"/>
<text transform="translate(294.23,365.0) rotate(-45)" text-anchor="end" font-size="5.85" fill="#333333" font-style="italic">ATM</text>
<text transform="translate(302.49,365.0) rotate(-45)" text-anchor="end" font-size="5.85" fill="#333333" font-style="italic">TP53</text>
<text transform="translate(310.75,365.0) rotate(-45)" text-anchor="end" font-size="5.85" fill="#333333" font-style="italic">CCND1</text>
<text transform="translate(319.01,365.0) rotate(-45)" text-anchor="end" font-size="5.85" fill="#333333" font-style="italic">KMT2D</text>
<text transform="translate(327.27,365.0) rotate(-45)" text-anchor="end" font-size="5.85" fill="#333333" font-style="italic">NSD2</text>
<text transform="translate(335.53,365.0) rotate(-45)" text-anchor="end" font-size="5.85" fill="#333333" font-style="italic">SMARCA4</text>
<text transform="translate(343.79,365.0) rotate(-45)" text-anchor="end" font-size="5.85" fill="#333333" font-style="italic">UBR5</text>
<text transform="translate(352.05,365.0) rotate(-45)" text-anchor="end" font-size="5.85" fill="#333333" font-style="italic">NOTCH1</text>
<text transform="translate(360.31,365.0) rotate(-45)" text-anchor="end" font-size="5.85" fill="#333333" font-style="italic">NOTCH2</text>
<text transform="translate(368.57,365.0) rotate(-45)" text-anchor="end" font-size="5.85" fill="#333333" font-style="italic">SP140</text>
<text transform="translate(376.83,365.0) rotate(-45)" text-anchor="end" font-size="5.85" fill="#333333" font-style="italic">BIRC3</text>
<text transform="translate(385.09,365.0) rotate(-45)" text-anchor="end" font-size="5.85" fill="#333333" font-style="italic">SYNE1</text>
<text transform="translate(393.35,365.0) rotate(-45)" text-anchor="end" font-size="5.85" fill="#333333" font-style="italic">SAMHD1</text>
<text transform="translate(401.61,365.0) rotate(-45)" text-anchor="end" font-size="5.85" fill="#333333" font-style="italic">MEF2B</text>
<text transform="translate(409.87,365.0) rotate(-45)" text-anchor="end" font-size="5.85" fill="#333333" font-style="italic">ZFHX4</text>
<text transform="translate(418.13,365.0) rotate(-45)" text-anchor="end" font-size="5.85" fill="#333333" font-style="italic">HNRNPH1</text>
<text transform="translate(426.39,365.0) rotate(-45)" text-anchor="end" font-size="5.85" fill="#333333" font-style="italic">S1PR1</text>
<text transform="translate(434.65,365.0) rotate(-45)" text-anchor="end" font-size="5.85" fill="#333333" font-style="italic">ABCA13</text>
<text transform="translate(442.91,365.0) rotate(-45)" text-anchor="end" font-size="5.85" fill="#333333" font-style="italic">BCOR</text>
<text transform="translate(451.17,365.0) rotate(-45)" text-anchor="end" font-size="5.85" fill="#333333" font-style="italic">CARD11</text>
<text transform="translate(459.43,365.0) rotate(-45)" text-anchor="end" font-size="5.85" fill="#333333" font-style="italic">DAZAP1</text>
<text transform="translate(467.69,365.0) rotate(-45)" text-anchor="end" font-size="5.85" fill="#333333" font-style="italic">UNC80</text>
<text transform="translate(475.95,365.0) rotate(-45)" text-anchor="end" font-size="5.85" fill="#333333" font-style="italic">SMARCB1</text>
<text transform="translate(484.21,365.0) rotate(-45)" text-anchor="end" font-size="5.85" fill="#333333" font-style="italic">USH2A</text>
<text transform="translate(492.47,365.0) rotate(-45)" text-anchor="end" font-size="5.85" fill="#333333" font-style="italic">CDKN1B</text>
<text transform="translate(500.73,365.0) rotate(-45)" text-anchor="end" font-size="5.85" fill="#333333" font-style="italic">TERT</text>
<text transform="translate(508.99,365.0) rotate(-45)" text-anchor="end" font-size="5.85" fill="#333333" font-style="italic">TLR2</text>
<text transform="translate(268.70,295.3) rotate(-90)" text-anchor="middle" font-size="6.9" fill="#333333" textLength="25.5" lengthAdjust="spacingAndGlyphs">Frequency</text>
<text x="381.00" y="397.3" font-size="7.8" fill="#333333" textLength="39.0" lengthAdjust="spacingAndGlyphs">SNVs and indels</text>
<rect x="456.9" y="235.0" width="5.7" height="5.7" fill="#379f33"/>
<text x="465.8" y="239.55" font-size="6.4" fill="#333333" style="stroke-width:0.12px" textLength="44.2" lengthAdjust="spacingAndGlyphs">Frequency cMCL</text>
<rect x="456.9" y="245.0" width="5.7" height="5.7" fill="#a8c88e"/>
<text x="465.8" y="249.55" font-size="6.4" fill="#333333" style="stroke-width:0.12px" textLength="47.7" lengthAdjust="spacingAndGlyphs">Frequency nnMCL</text>
</g>
<rect x="0" y="0" width="520" height="1" fill="#5e5e5e"/>
<rect x="0" y="0" width="1" height="406" fill="#5e5e5e"/>
<rect x="518.7" y="0" width="1.3" height="406" fill="#5e5e5e"/>
<rect x="0" y="404.7" width="520" height="1.3" fill="#5e5e5e"/>
</svg>
</body></html>
